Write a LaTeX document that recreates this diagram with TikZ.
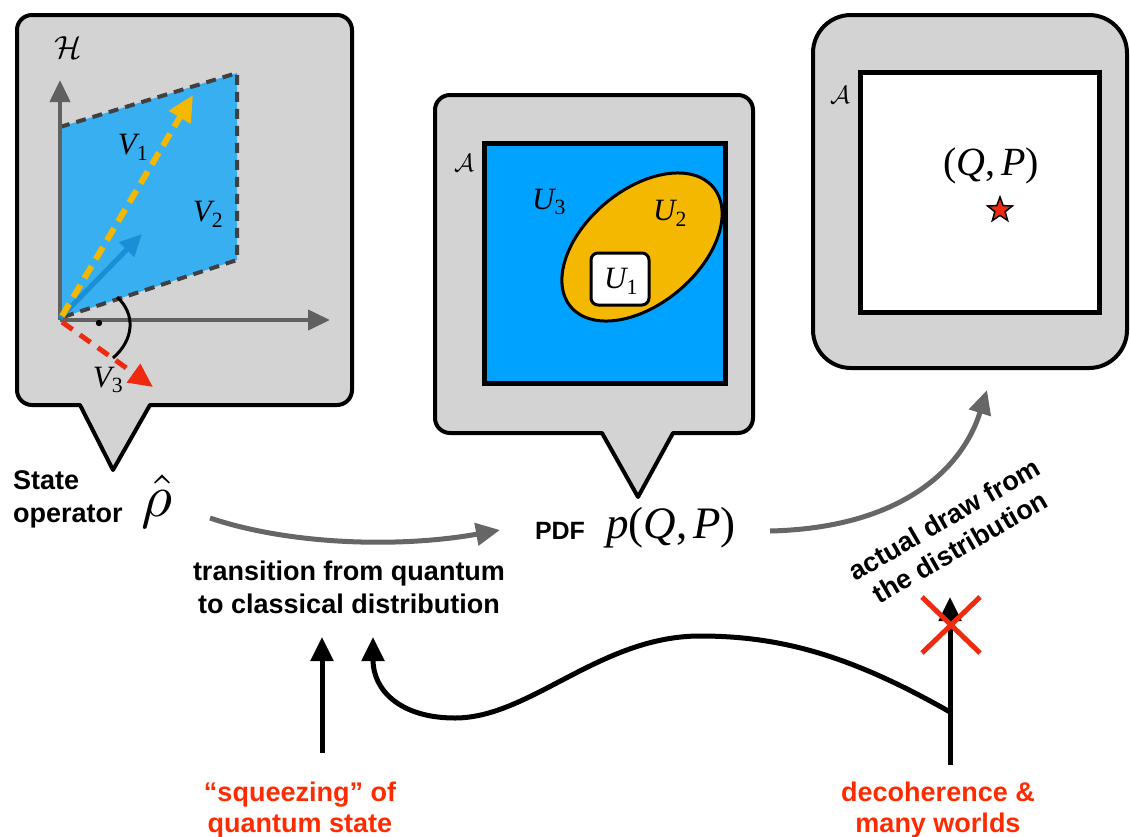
\documentclass[tikz,border=0pt]{standalone}
\usepackage{graphicx}
\usepackage{fontspec}
\setmainfont{Liberation Sans}
\newfontfamily\tms{Liberation Serif}
\usetikzlibrary{arrows.meta,calc,shapes.geometric}
\definecolor{bub}{HTML}{D3D3D3}
\definecolor{axg}{HTML}{606060}
\definecolor{lblue}{HTML}{38AFF0}
\definecolor{sblue}{HTML}{00A2FF}
\definecolor{dblue}{HTML}{1B8FD6}
\definecolor{yel}{HTML}{F5B800}
\definecolor{rd}{HTML}{EE2A10}
\definecolor{dgray}{HTML}{404040}
\definecolor{agray}{HTML}{666666}
\definecolor{txtred}{HTML}{FF2A00}
\newcommand\tv[2]{{\tms\itshape #1}\textsubscript{\tms #2}}
\newcommand\fs[1]{\fontsize{#1}{#1}\selectfont}
\tikzset{
  bubble/.style={fill=bub, draw=black, line width=4pt, line join=round},
  axisarrow/.style={draw=axg, line width=4pt, -{Triangle[length=22pt,width=20pt]}},
  edgedash/.style={draw=dgray, line width=4pt, dash pattern=on 10pt off 7pt},
  grayarrow/.style={draw=agray, line width=5pt, -{Triangle[length=24pt,width=22pt]}},
  blackarrow/.style={draw=black, line width=5pt, -{Triangle[length=24pt,width=22pt]}},
  lbl/.style={font=\bfseries\fontsize{27}{33}\selectfont, align=center, inner sep=0pt},
  redlbl/.style={font=\bfseries\fontsize{27}{31}\selectfont, text=txtred, align=center, inner sep=0pt},
  sym/.style={font=\fs{31}, inner sep=0pt},
  cal/.style={inner sep=1pt}
}
\begin{document}
\begin{tikzpicture}[x=1pt,y=-1pt]
\useasboundingbox (0,0) rectangle (1130,836);

% ---------- bubble 1 ----------
\draw[bubble, rounded corners=15pt] (17,15) -- (352,15) -- (352,405) [sharp corners] -- (150,405) -- (113,470) -- (80,405) [rounded corners=15pt] -- (17,405) -- cycle;
\node[cal] (H) at (68,48) {\scalebox{3.2}{$\mathcal{H}$}};
\fill[lblue] (60,127) -- (237,73) -- (237,260) -- (60,318) -- cycle;
\draw[edgedash] (60,127) -- (237,73) -- (237,260) -- (60,318);
\coordinate (O) at (60,320);
\coordinate (ytip) at (60,80);
\coordinate (xtip) at (330,320);
\draw[axisarrow] (O) -- (ytip);
\draw[axisarrow] (O) -- (xtip);
\coordinate (btip) at (142,234);
\coordinate (ytp) at (193,95);
\coordinate (rtip) at (153,387);
\draw[draw=dblue, line width=5pt, -{Triangle[length=22pt,width=20pt]}] (60,318) -- (btip);
\draw[draw=yel, line width=6pt, dash pattern=on 14pt off 8pt, -{Triangle[length=26pt,width=24pt]}] (62,316) -- (ytp);
\draw[draw=rd, line width=5pt, dash pattern=on 13pt off 9pt, -{Triangle[length=24pt,width=22pt]}] (62,322) -- (rtip);
\draw[line width=3pt] (117,297) .. controls (136,314) and (134,340) .. (113,358);
\fill (99,323) circle (3.2pt);
\node[sym] (V1) at (133,147) {\tv{V}{1}};
\node[sym] (V2) at (208,214) {\tv{V}{2}};
\node[sym] (V3) at (108,380) {\tv{V}{3}};

% ---------- bubble 2 ----------
\draw[bubble, rounded corners=15pt] (435,95) -- (753,95) -- (753,433) [sharp corners] -- (673,433) -- (638,497) -- (602,433) [rounded corners=15pt] -- (435,433) -- cycle;
\draw[fill=sblue, line width=5pt] (484,143) rectangle (725,383);
\node[cal] (A1) at (464,163) {\scalebox{2.5}{$\mathcal{A}$}};
\draw[fill=yel, line width=3pt, rotate around={40:(642,247)}] (642,247) ellipse [x radius=93, y radius=57];
\node[draw=black, line width=3pt, fill=white, rounded corners=7pt, minimum width=58pt, minimum height=52pt, inner sep=0pt] (U1box) at (620,279) {};
\node[sym] (U1) at (621,281) {\tv{U}{1}};
\node[sym] (U2) at (670,213) {\tv{U}{2}};
\node[sym] (U3) at (549,202) {\tv{U}{3}};

% ---------- bubble 3 ----------
\draw[bubble, rounded corners=38pt] (813,15) rectangle (1127,368);
\draw[fill=white, line width=5pt] (860,72) rectangle (1099,312);
\node[cal] (A2) at (840,95) {\scalebox{2.5}{$\mathcal{A}$}};
\node[font=\tms\fs{40}, inner sep=0pt] (QP) at (991,166) {(\textit{Q},\kern0.15em\textit{P})};
\node[star, star points=5, star point ratio=2.4, fill=rd, draw=black, line width=1.5pt, minimum size=26pt, inner sep=0pt] (star) at (1000,210) {};

% ---------- texts ----------
\node[lbl, align=left, anchor=west] (state) at (13,499) {State\\operator};
\node[inner sep=0pt] (rho) at (157,501) {\scalebox{6}{$\hat{\rho}$}};
\node[lbl, font=\bfseries\fs{25}] (pdf) at (560,531) {PDF};
\node[font=\tms\fs{45}, inner sep=0pt] (pqp) at (671,528) {\textit{p}(\textit{Q},\kern0.12em\textit{P})};
\node[lbl] (trans) at (349,587) {transition from quantum\\to classical distribution};
\node[lbl, font=\bfseries\fontsize{27}{32}\selectfont, rotate=30] (actual) at (952,533) {actual draw from\\the distribution};
\node[redlbl, anchor=base] (squeeze) at (300,832) {“squeezing” of\\quantum state};
\node[redlbl, anchor=base] (decoh) at (938,832) {decoherence \&\\many worlds};

% ---------- connectors ----------
\coordinate (g1s) at (210,518);
\coordinate (g1e) at (500,530);
\draw[grayarrow] (g1s) .. controls (290,545) and (400,548) .. (g1e);
\coordinate (g2s) at (770,531);
\coordinate (g2e) at (987,390);
\draw[grayarrow] (g2s) .. controls (900,528) and (962,470) .. (g2e);

\coordinate (sqs) at (322,753);
\coordinate (sqe) at (322,637);
\draw[blackarrow] (sqs) -- (sqe);

\coordinate (dcs) at (950,765);
\coordinate (dce) at (950,597);
\coordinate (br) at (950,712);
\draw[blackarrow] (dcs) -- (dce);
\coordinate (cve) at (373,637);
\draw[blackarrow] (br) .. controls (850,655) and (780,636) .. (700,636) .. controls (600,636) and (530,718) .. (455,718) .. controls (400,718) and (373,690) .. (cve);

\coordinate (x1) at (922,597);
\coordinate (x2) at (980,653);
\coordinate (x3) at (922,653);
\coordinate (x4) at (980,597);
\draw[rd, line width=5pt] (x1) -- (x2);
\draw[rd, line width=5pt] (x3) -- (x4);
\end{tikzpicture}
\end{document}
